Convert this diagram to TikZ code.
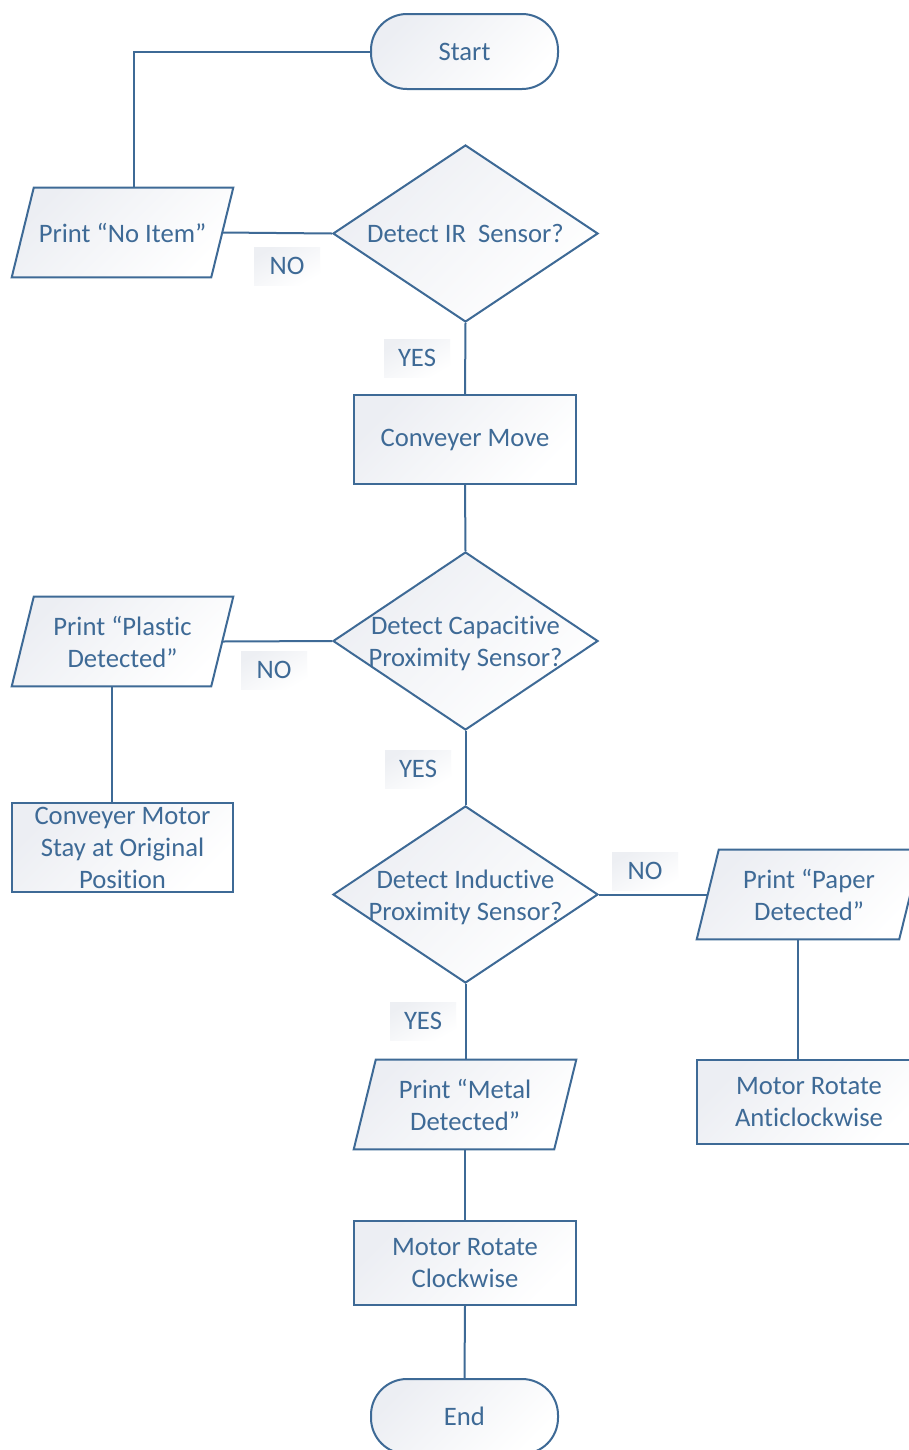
\documentclass[tikz,border=0pt]{standalone}
\usepackage{fontspec}
\setmainfont{Carlito}[Ligatures=NoCommon]
\usetikzlibrary{shapes.geometric}
\pgfdeclarelayer{background}
\pgfsetlayers{background,main}
\definecolor{lineblue}{RGB}{62,106,150}
\definecolor{fillA}{RGB}{236,238,243}
\definecolor{fillL}{RGB}{237,239,243}
\newcommand\paraframe[1]{%
  \path[pshape] ([xshift=16.5pt]#1.north west) -- (#1.north east)
    -- ([xshift=-16.5pt]#1.south east) -- (#1.south west) -- cycle;}
\begin{document}
\begin{tikzpicture}[x=0.75pt,y=-0.75pt,
  sz/.style 2 args={minimum width=#1*0.75pt, minimum height=#2*0.75pt},
  tfont/.style={font=\fontsize{20}{24}\selectfont},
  base/.style={draw=lineblue, line width=1.5pt, text=lineblue, inner sep=0pt,
    top color=fillA, bottom color=white, shading angle=45,
    tfont, align=center},
  term/.style={base, rectangle, rounded corners=27pt},
  proc/.style={base, rectangle},
  dec/.style={base, diamond},
  io/.style={rectangle, inner sep=0pt, text=lineblue, tfont, align=center},
  pshape/.style={draw=lineblue, line width=1.5pt,
    top color=fillA, bottom color=white, shading angle=45},
  lbl/.style={inner sep=0pt, text=lineblue, sz={66}{38},
    left color=fillL, right color=white, shading angle=30, tfont},
  txt/.style={text=lineblue, tfont, align=center, yshift=-2pt},
  conn/.style={draw=lineblue, line width=1.5pt}
]
\useasboundingbox (0,0) rectangle (909,1450);
\begin{pgfonlayer}{background}
\fill[white] (0,0) rectangle (909,1450);
\end{pgfonlayer}

% labels
\node[lbl] (no1) at (287,266) {NO};
\node[lbl] (yes1) at (417,358) {YES};
\node[lbl] (no2) at (274,670) {NO};
\node[lbl] (yes2) at (418,769) {YES};
\node[lbl] (no3) at (645,871) {NO};
\node[lbl] (yes3) at (423,1021) {YES};

% nodes
\node[term, sz={187}{75}] (start) at (464.5,51.5) {Start};
\node[dec, sz={265}{177}, label={[txt, yshift=2pt]center:Detect IR~~Sensor?}] (d1) at (465.5,233.5) {};
\node[io, sz={221}{89}] (ni) at (122.5,232.5) {Print “No Item”};
\node[proc, sz={222}{89}] (cm) at (465,439.5) {Conveyer Move};
\node[dec, sz={265}{178}, label={[txt]center:{Detect Capacitive\\Proximity Sensor?}}] (d2) at (465.5,641) {};
\node[io, sz={221}{89}] (pl) at (122.5,641.5) {Print “Plastic\\Detected”};
\node[proc, sz={221}{89}] (cmo) at (122.5,847.5) {Conveyer Motor\\Stay at Original\\Position};
\node[dec, sz={265}{177}, label={[txt]center:{Detect Inductive\\Proximity Sensor?}}] (d3) at (465.5,894.5) {};
\node[io, sz={224}{89}] (pa) at (809,894.5) {Print “Paper\\Detected”};
\node[proc, sz={224}{84}] (ma) at (809,1102) {Motor Rotate\\Anticlockwise};
\node[io, sz={222}{89}] (pm) at (465,1104.5) {Print “Metal\\Detected”};
\node[proc, sz={222}{84}] (mc) at (465,1263) {Motor Rotate\\Clockwise};
\node[term, sz={187}{75}] (end) at (464.5,1416.5) {End};

\begin{pgfonlayer}{background}
\paraframe{ni}
\paraframe{pl}
\paraframe{pa}
\paraframe{pm}
\end{pgfonlayer}

% connectors
\draw[conn] (start.west) -| ([xshift=8.25pt]ni.north);
\draw[conn] ([xshift=-8.25pt]ni.east) -- (d1.west);
\draw[conn] (d1.south) -- (cm.north);
\draw[conn] (cm.south) -- (d2.north);
\draw[conn] (d2.west) -- ([xshift=-8.25pt]pl.east);
\draw[conn] ([xshift=-8.25pt]pl.south) -- ([xshift=-8.25pt]pl.south |- cmo.north);
\draw[conn] (d2.south) -- (d3.north);
\draw[conn] (d3.east) -- ([xshift=8.25pt]pa.west);
\draw[conn] ([xshift=-8.25pt]pa.south) -- ([xshift=-8.25pt]pa.south |- ma.north);
\draw[conn] (d3.south) -- (d3.south |- pm.north);
\draw[conn] (mc.north |- pm.south) -- (mc.north);
\draw[conn] (mc.south) -- (end.north);
\end{tikzpicture}
\end{document}
